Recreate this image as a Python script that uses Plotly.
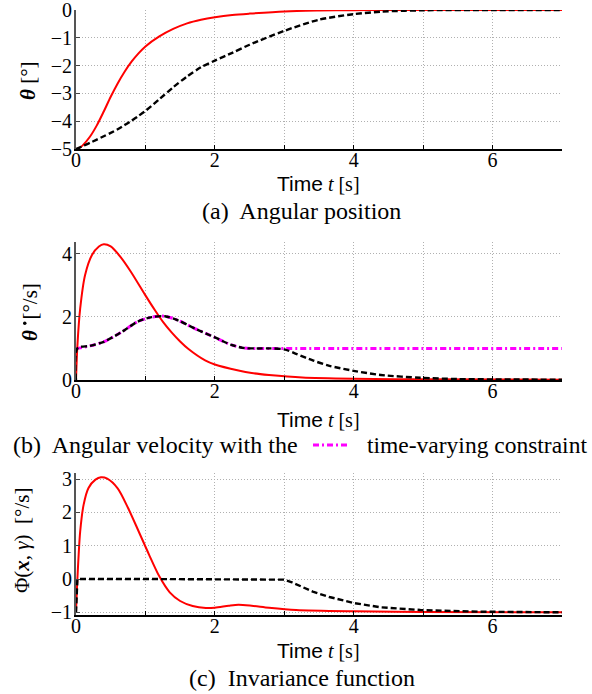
import plotly.graph_objects as go

# (a) Posición angular
t_pos = [0, 0.05, 0.1, 0.2, 0.3, 0.4, 0.5, 0.6, 0.7, 0.8, 0.9, 1.0, 1.2, 1.4, 1.6,
         1.8, 2.0, 2.25, 2.5, 3.0, 3.5, 4.0, 4.4, 5.0, 6.0, 7.0]
theta_rojo = [-5, -4.96, -4.86, -4.56, -4.15, -3.65, -3.12, -2.64, -2.22, -1.86, -1.56, -1.31,
              -0.95, -0.68, -0.48, -0.35, -0.26, -0.18, -0.13, -0.05, -0.02, -0.006, 0, 0, 0, 0]
theta_negro = [-5, -4.95, -4.89, -4.78, -4.66, -4.54, -4.42, -4.29, -4.14, -3.98, -3.81, -3.63,
               -3.21, -2.78, -2.39, -2.06, -1.82, -1.54, -1.25, -0.75, -0.35, -0.15, -0.06,
               -0.01, 0, 0]

# (b) Velocidad angular
t_vel_rojo = [0, 0.02, 0.06, 0.13, 0.23, 0.33, 0.4, 0.5, 0.64, 0.79, 1.0, 1.14, 1.25, 1.38,
              1.5, 1.62, 1.86, 2.0, 2.34, 2.53, 2.78, 3.26, 4.0, 5.0, 7.0]
vel_rojo = [0, 1.08, 2.26, 3.32, 3.96, 4.23, 4.30, 4.23, 3.90, 3.43, 2.68, 2.20, 1.85, 1.50,
            1.22, 0.98, 0.62, 0.49, 0.30, 0.22, 0.16, 0.08, 0.04, 0.02, 0.01]
t_vel = [0, 0.02, 0.2, 0.4, 0.65, 0.89, 1.09, 1.28, 1.48, 1.72, 2.0, 2.24, 2.43, 2.6, 2.8,
         3.0, 3.18, 3.41, 3.65, 4.0, 4.39, 4.96, 5.5, 6.0, 7.0]
vel_negro = [0, 1.0, 1.08, 1.21, 1.51, 1.85, 1.99, 2.02, 1.88, 1.62, 1.35, 1.11, 1.01, 1.0,
             1.0, 0.97, 0.82, 0.62, 0.45, 0.29, 0.16, 0.07, 0.03, 0.02, 0.01]
t_restr = [0, 0.02, 0.2, 0.4, 0.65, 0.89, 1.09, 1.28, 1.48, 1.72, 2.0, 2.24, 2.43, 2.6,
           3.0, 5.0, 7.0]
restriccion = [1.0, 1.0, 1.08, 1.21, 1.51, 1.85, 1.99, 2.02, 1.88, 1.62, 1.35, 1.11, 1.01,
               1.0, 1.0, 1.0, 1.0]

# (c) Función de invariancia
t_phi_rojo = [0, 0.02, 0.06, 0.11, 0.18, 0.28, 0.36, 0.45, 0.6, 0.75, 0.9, 1.05, 1.2, 1.35,
              1.5, 1.68, 1.87, 2.0, 2.2, 2.34, 2.53, 2.78, 3.17, 4.0, 5.0, 7.0]
phi_rojo = [-1, 0, 1.42, 2.23, 2.73, 2.98, 3.05, 3.01, 2.72, 2.13, 1.44, 0.74, 0.08, -0.40,
            -0.66, -0.81, -0.87, -0.86, -0.80, -0.77, -0.80, -0.86, -0.93, -0.97, -0.99, -1.0]
t_phi_negro = [0, 0.02, 1.0, 2.0, 2.9, 3.0, 3.1, 3.18, 3.41, 3.65, 4.0, 4.39, 4.96, 5.8, 7.0]
phi_negro = [-1, 0, 0, 0, 0, -0.02, -0.09, -0.17, -0.38, -0.54, -0.72, -0.85, -0.93, -0.98, -1.0]

x_ticks = [0, 1, 2, 3, 4, 5, 6, 7]
x_textos = ['0', '', '2', '', '4', '', '6', '']

W, H = 592, 694
SERIF = 'Liberation Serif'

fig = go.Figure()

def linea(x, y, color, dash, ancho, n, forma='spline'):
    fig.add_trace(go.Scatter(x=x, y=y, mode='lines', line_shape=forma,
                             line=dict(color=color, dash=dash, width=ancho, smoothing=0.8),
                             xaxis='x' + n, yaxis='y' + n, showlegend=False))

linea(t_pos, theta_rojo, 'red', 'solid', 2, '')
linea(t_pos, theta_negro, 'black', '6px,3px', 2.4, '')
linea(t_restr, restriccion, 'magenta', '6px,3px,2px,3px', 3, '2')
linea(t_vel_rojo, vel_rojo, 'red', 'solid', 2, '2')
linea(t_vel, vel_negro, 'black', '6px,3px', 2.4, '2')
linea(t_phi_rojo, phi_rojo, 'red', 'solid', 2, '3')
linea(t_phi_negro, phi_negro, 'black', '6px,3px', 2.4, '3', 'linear')

def px_y(p):
    return 1 - p / H

ejes = {'': (10, 149, [-5, 0], [-5, -4, -3, -2, -1, 0]),
        '2': (242, 380, [0, 4.37], [0, 2, 4]),
        '3': (473, 615, [-1.08, 3.18], [-1, 0, 1, 2, 3])}

tick_font = dict(family=SERIF, size=20, color='black')
lay = {}
for n, (top, bot, rng, yt) in ejes.items():
    lay['xaxis' + n] = dict(domain=[76 / W, 562 / W], range=[0, 7], anchor='y' + n,
                            tickvals=x_ticks, ticktext=x_textos, ticks='inside', ticklen=4,
                            tickcolor='black', showline=True, linecolor='black', linewidth=1.5,
                            showgrid=True, gridcolor='#b0b0b0', griddash='1px,2px', gridwidth=1,
                            zeroline=False, tickfont=tick_font, automargin=False,
                            ticklabelstandoff=-8, ticklabeloverflow='allow')
    lay['yaxis' + n] = dict(domain=[px_y(bot), px_y(top)], range=rng, anchor='x' + n,
                            tickvals=yt, ticks='inside', ticklen=4, tickcolor='#444',
                            showline=True, linecolor='#555', linewidth=2,
                            showgrid=True, gridcolor='#b0b0b0', griddash='1px,2px', gridwidth=1,
                            zeroline=False, tickfont=tick_font, automargin=False,
                            ticklabelstandoff=-2, ticklabeloverflow='allow')

fig.update_layout(width=W, height=H, margin=dict(l=0, r=0, t=0, b=0),
                  plot_bgcolor='white', paper_bgcolor='white', **lay)

tiempo = ('<span style="font-family:Liberation Sans;font-size:21px">Time</span>'
          ' <i>t</i> [s]')
anots = [
    (318, 183, tiempo, 'center', 0, 20),
    (318, 419, tiempo, 'center', 0, 20),
    (318, 650, tiempo, 'center', 0, 20),
    (301, 211, '(a)&nbsp; Angular position', 'center', 0, 24),
    (300, 445, '(b)&nbsp; Angular velocity with the', 'right', 0, 24),
    (365, 445, 'time-varying constraint', 'left', 0, 23.5),
    (302, 678, '(c)&nbsp; Invariance function', 'center', 0, 24),
    (28, 81, '<b><i>θ</i></b>&nbsp;[°]', 'center', -90, 21),
    (30, 312, '<b><i>θ</i></b>&nbsp;&nbsp;[°/s]', 'center', -90, 21),
    (22, 540, 'Φ(<b><i>x</i></b>, <i>γ</i>)&nbsp; [°/s]', 'center', -90, 21),
]
for x, y, txt, anc, ang, sz in anots:
    fig.add_annotation(x=x / W, y=px_y(y), xref='paper', yref='paper', text=txt,
                       showarrow=False, xanchor=anc, yanchor='middle', textangle=ang,
                       font=dict(family=SERIF, size=sz, color='black'))

# punto de la derivada sobre theta (eje b)
fig.add_shape(type='circle', xref='paper', yref='paper', x0=23 / W, x1=26.5 / W,
              y0=px_y(325), y1=px_y(321.5), fillcolor='black', line=dict(width=0))

# muestra de la restricción en el pie (b)
fig.add_shape(type='line', xref='paper', yref='paper', x0=313 / W, x1=348 / W,
              y0=px_y(445), y1=px_y(445), line=dict(color='magenta', width=3, dash='6px,3px,2px,3px'))

# quitar el margen del body para que la figura ocupe la ventana
fig.write_html('out.html', config={'displayModeBar': False},
               post_script="document.body.style.margin='0';")
